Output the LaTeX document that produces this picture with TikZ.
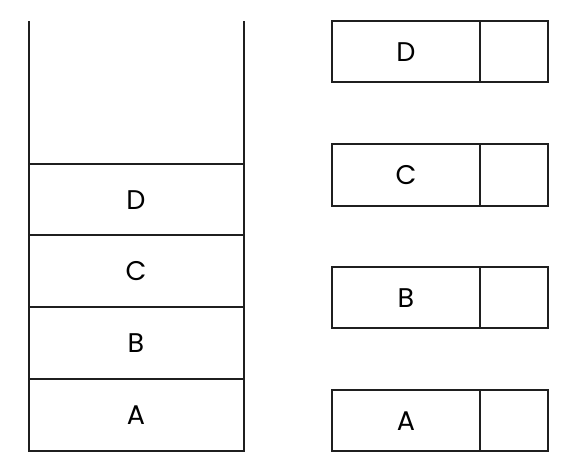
\documentclass[tikz,border=0pt]{standalone}
\usepackage{fontspec}
\setmainfont{Poppins}
\begin{document}
\begin{tikzpicture}[x=1pt,y=-1pt,
  line width=2pt, line join=miter,
  edge/.style={draw=black!88},
  cell/.style={rectangle, inner sep=0pt, outer sep=0pt, font=\fontsize{27}{30}\selectfont, text=black},
  stackcell/.style={cell, minimum width=215pt, minimum height=71.7pt},
  keycell/.style={cell, minimum width=147.5pt, minimum height=61.3pt},
  ptrcell/.style={cell, minimum width=68pt, minimum height=61.3pt}]
\useasboundingbox (0,0) rectangle (568,467);
% stack
\node[stackcell] (sA) at (136,414.7) {A};
\node[stackcell] (sB) at (136,343) {B};
\node[stackcell] (sC) at (136,271.3) {C};
\node[stackcell] (sD) at (136,199.7) {D};
\coordinate (tl) at (28.5,21);
\coordinate (tr) at (243.5,21);
\draw[edge] (tl) -- (sA.south west) -- (sA.south east) -- (tr);
\draw[edge] (sA.north west) -- (sA.north east);
\draw[edge] (sB.north west) -- (sB.north east);
\draw[edge] (sC.north west) -- (sC.north east);
\draw[edge] (sD.north west) -- (sD.north east);
% linked nodes
\foreach \n/\y in {D/51.7, C/175, B/297.7, A/420.8}{
  \node[keycell] (k\n) at (406,\y) {\n};
  \node[ptrcell, anchor=west] (p\n) at (k\n.east) {};
  \draw[edge] (k\n.north west) rectangle (p\n.south east);
  \draw[edge] (k\n.north east) -- (k\n.south east);
}
\end{tikzpicture}
\end{document}
